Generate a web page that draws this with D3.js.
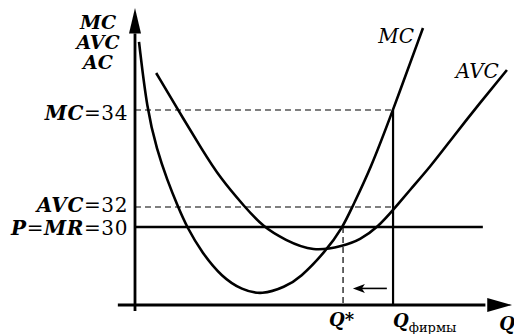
<!DOCTYPE html>
<html>
<head>
<meta charset="utf-8">
<script src="https://cdn.jsdelivr.net/npm/d3@7"></script>
<style>
  body { margin: 0; background: #fff; }
  text { font-family: "DejaVu Serif", serif; fill: #000; }
</style>
</head>
<body>
<script>
// curve data (Q, cost)
var mcQ    = [1.1, 3.3, 6.0, 8.8, 11.8, 14.2, 18.4, 23.8, 29.3, 34.8, 41.1, 45.2, 52.1, 57, 59.5, 64.4, 70.7, 78.9];
var mcCost = [40.67, 34, 33.18, 32.56, 32, 30, 27.33, 24.87, 23.54, 23.03, 23.85, 24.77, 27.44, 30, 32, 32.76, 34, 42.04];
var avcQ    = [5.8, 11.8, 18.4, 23.3, 30.1, 35.1, 41.1, 48.8, 57, 61.6, 66.6, 71.2, 75.3, 80.8, 87.1, 94.5, 101.9];
var avcCost = [37.63, 34, 33.18, 32.6, 32, 30, 28.67, 27.44, 28.05, 28.67, 30, 31.9, 32.35, 32.82, 33.44, 34.69, 37.92];

var price = 30, avcAtFirm = 32, mcAtFirm = 34;
var qStar = 57, qFirm = 70.7;
var priceLineEnd = 95.3;
var arrowFrom = 69, arrowTo = 59.7, arrowCost = 23.7;

var width = 514, height = 334;

var svg = d3.select("body")
  .append("svg")
    .attr("width", width)
    .attr("height", height);

// schematic axis: piecewise scale so the labelled levels sit where they are drawn
var x = d3.scaleLinear()
  .domain([0, 100])
  .range([135, 500]);
var y = d3.scaleLinear()
  .domain([22, 30, 32, 34, 44])
  .range([305, 227, 207, 110, 8]);

var line = d3.line()
  .x(function(d) { return x(d[0]); })
  .y(function(d) { return y(d[1]); })
  .curve(d3.curveBasis);

var mc = d3.zip(mcQ, mcCost);
var avc = d3.zip(avcQ, avcCost);

// dashed guides
function dashed(x1, y1, x2, y2) {
  svg.append("line")
    .attr("x1", x1).attr("y1", y1).attr("x2", x2).attr("y2", y2)
    .attr("stroke", "#000")
    .attr("stroke-width", 1.2)
    .attr("stroke-dasharray", "6,4");
}
dashed(x(0), y(mcAtFirm), x(qFirm), y(mcAtFirm));
dashed(x(0), y(avcAtFirm), x(qFirm), y(avcAtFirm));
dashed(x(qStar), y(price), x(qStar), y(22));

// price line
svg.append("line")
  .attr("x1", x(0)).attr("x2", x(priceLineEnd))
  .attr("y1", y(price)).attr("y2", y(price))
  .attr("stroke", "#000").attr("stroke-width", 2.6);

// Q firm
svg.append("line")
  .attr("x1", x(qFirm)).attr("x2", x(qFirm))
  .attr("y1", y(mcAtFirm)).attr("y2", y(22))
  .attr("stroke", "#000").attr("stroke-width", 2.2);

// curves
[mc, avc].forEach(function(d) {
  svg.append("path")
    .datum(d)
    .attr("d", line)
    .attr("fill", "none")
    .attr("stroke", "#000")
    .attr("stroke-width", 2.6);
});

// axes
var x0 = x(0), yBase = y(22);
svg.append("line")
  .attr("x1", x0).attr("x2", x0)
  .attr("y1", y(41.5)).attr("y2", yBase + 6)
  .attr("stroke", "#000").attr("stroke-width", 2.8);
svg.append("path")
  .attr("d", "M" + x0 + "," + y(44) + "L" + (x0 - 6) + "," + y(41.5) + "L" + (x0 + 6) + "," + y(41.5) + "Z")
  .attr("fill", "#000");
svg.append("line")
  .attr("x1", x(-4.7)).attr("x2", x(96))
  .attr("y1", yBase).attr("y2", yBase)
  .attr("stroke", "#000").attr("stroke-width", 2.8);
svg.append("path")
  .attr("d", "M" + x(103.3) + "," + yBase + "L" + x(96.5) + "," + (yBase - 7) + "L" + x(96.5) + "," + (yBase + 7) + "Z")
  .attr("fill", "#000");

// small arrow Q firm -> Q*
svg.append("line")
  .attr("x1", x(arrowFrom)).attr("x2", x(arrowTo) + 8)
  .attr("y1", y(arrowCost)).attr("y2", y(arrowCost))
  .attr("stroke", "#000").attr("stroke-width", 1.6);
svg.append("path")
  .attr("d", "M" + x(arrowTo) + "," + y(arrowCost) + "l12,-4.5l-3,4.5l3,4.5Z")
  .attr("fill", "#000");

// labels
function label(px, py, parts, size, anchor) {
  var t = svg.append("text")
    .attr("x", px).attr("y", py)
    .attr("text-anchor", anchor || "start")
    .style("font-size", size + "px");
  parts.forEach(function(p) {
    t.append("tspan")
      .text(p[0])
      .style("font-style", p[1] ? "italic" : "normal")
      .style("font-weight", p[1] ? "bold" : "normal");
  });
  return t;
}

var axisTitle = ["MC", "AVC", "AC"];
axisTitle.forEach(function(s, i) {
  label(98, 29 + i * 20, [[s, true]], 19, "middle");
});

var levelLabels = [
  [mcAtFirm, [["MC", true], ["=34", false]]],
  [avcAtFirm, [["AVC", true], ["=32", false]]],
  [price, [["P", true], ["=", false], ["MR", true], ["=30", false]]]
];
var nudge = [10, 5, 8];
levelLabels.forEach(function(d, i) {
  label(x0 - 7, y(d[0]) + nudge[i], d[1], 20, "end")
    .style("letter-spacing", "0.6px");
});

label(x(78.9) - 9, 43, [["MC", true]], 20, "end")
  .select("tspan").style("font-weight", "normal");
label(x(101.9) - 8, 78, [["AVC", true]], 20, "end")
  .select("tspan").style("font-weight", "normal");

label(x(qStar) - 14, 326, [["Q*", true]], 18);
var qf = label(x(qFirm), 327, [["Q", true]], 18);
qf.append("tspan").text("фирмы").attr("dy", 5).style("font-size", "13px");
label(x(99.8), 330, [["Q", true]], 18);
</script>
</body>
</html>
